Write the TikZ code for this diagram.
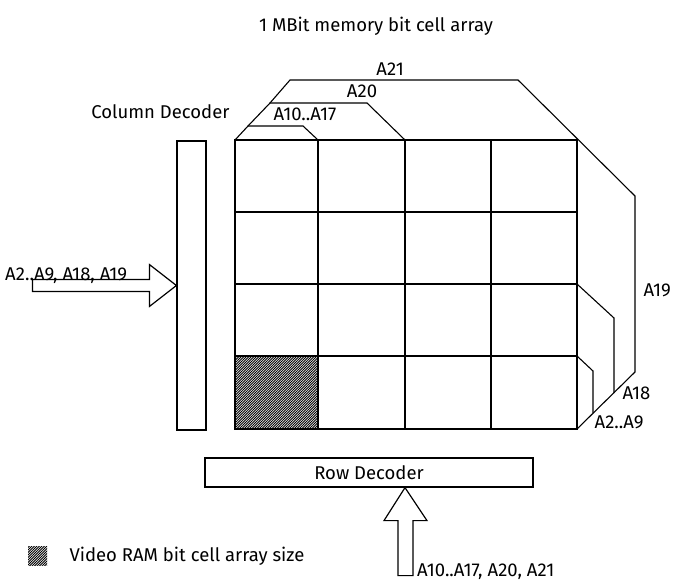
\documentclass[tikz,border=0pt]{standalone}
\usepackage{fontspec}
\setmainfont{Fira Sans}
\usetikzlibrary{patterns}
\pgfdeclarepatternformonly{densehatch}{\pgfqpoint{-1pt}{-1pt}}{\pgfqpoint{3.5pt}{3.5pt}}{\pgfqpoint{2.5pt}{2.5pt}}{
  \pgfsetlinewidth{0.75pt}
  \pgfpathmoveto{\pgfqpoint{0pt}{0pt}}
  \pgfpathlineto{\pgfqpoint{2.6pt}{2.6pt}}
  \pgfusepath{stroke}}

\begin{document}
\begin{tikzpicture}[x=1pt,y=-1pt,font=\fontsize{18.5}{22}\selectfont,
  decoder/.style={draw,line width=1.2pt,inner sep=0pt},
  bracket/.style={line width=1.1pt},
  bigarrow/.style={draw,line width=1.2pt,fill=white}]
\useasboundingbox (0,0) rectangle (679,583);

\node (title) at (376,26) {1 MBit memory bit cell array};

% cell array
\coordinate (NW) at (235,140);
\coordinate (NE) at (577,140);
\coordinate (SW) at (235,429);
\coordinate (SE) at (577,429);
\fill[pattern=densehatch] (235,356) rectangle (318,429);
\foreach \x in {318,405,491}
  \draw[line width=1.3pt] (\x,140) -- (\x,429);
\foreach \y in {212,284,356}
  \draw[line width=1.3pt] (235,\y) -- (577,\y);
\draw[line width=2.2pt] (NW) rectangle (SE);

% address brackets
\coordinate (b1) at (248,126);
\coordinate (b2) at (270,103);
\coordinate (b3) at (290,80);
\draw[bracket] (NW) -- (b1) -- (303,126) -- (318,140);
\draw[bracket] (b1) -- (b2) -- (367,103) -- (405,140);
\draw[bracket] (b2) -- (b3) -- (518,80) -- (635,196) -- (635,372) -- (SE);
\draw[bracket] (577,284) -- (614,318) -- (614,393);
\draw[bracket] (577,356) -- (593,371) -- (593,413);

\node (a1017) at (305,114) {A10..A17};
\node (a20) at (362,91) {A20};
\node (a21) at (390,69) {A21};
\node[anchor=west] (a19) at (640,290) {A19};
\node[anchor=west] (a18) at (619,393) {A18};
\node[anchor=west] (a29) at (591,422) {A2..A9};

% decoders
\node[decoder,minimum width=29,minimum height=289] (coldec) at (191.5,285.5) {};
\node[anchor=east] (coltxt) at (233,112) {Column Decoder};
\node[decoder,minimum width=328,minimum height=29] (rowdec) at (369,472.5) {Row Decoder};

% inputs
\draw[bigarrow] (coldec.west) -- ++(-27,-21) -- ++(0,15) -- ++(-117,0)
  -- ++(0,12) -- ++(117,0) -- ++(0,15) -- cycle;
\node[anchor=base west,inner sep=0pt] (colin) at (5,280) {A2..A9, A18, A19};
\draw[bigarrow] ([xshift=36]rowdec.south) -- ++(22,33) -- ++(-14,0) -- ++(0,55)
  -- ++(-15,0) -- ++(0,-55) -- ++(-14,0) -- cycle;
\node[anchor=base west,inner sep=0pt] (rowin) at (417,576) {A10..A17, A20, A21};

% legend
\fill[pattern=densehatch] (28,546) rectangle (47,565);
\node[anchor=west] (legend) at (66,556) {Video RAM bit cell array size};
\end{tikzpicture}
\end{document}
